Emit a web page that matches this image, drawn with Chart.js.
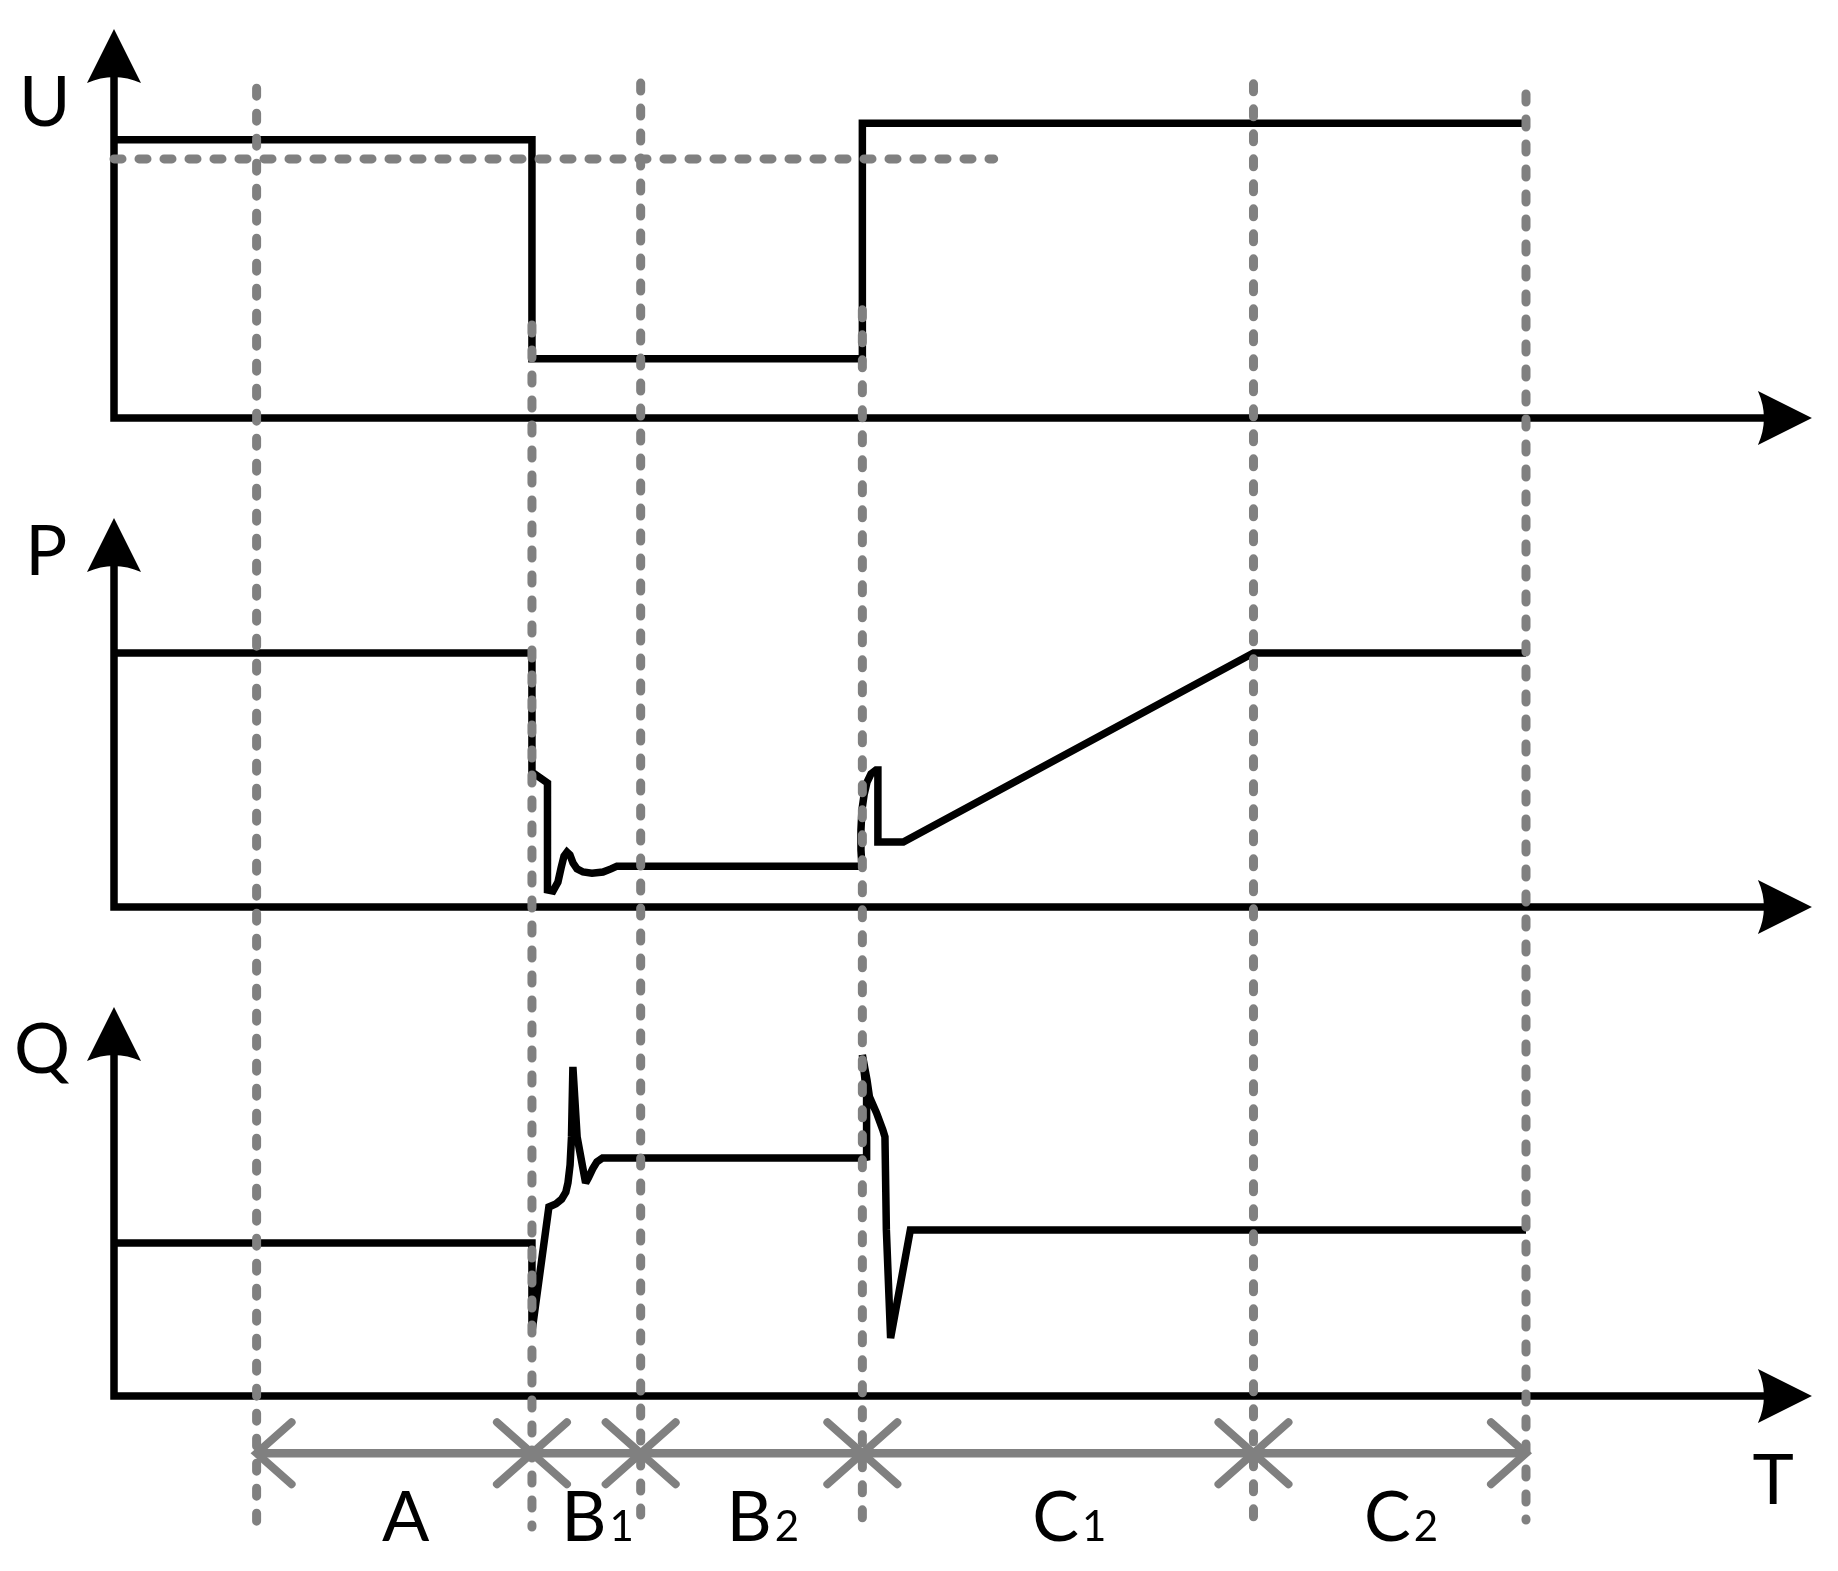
<!DOCTYPE html>
<html><head><meta charset="utf-8">
<script src="https://cdn.jsdelivr.net/npm/chart.js@4"></script>
<style>html,body{margin:0;padding:0;background:#fff;}canvas{display:block;}</style>
</head><body>
<canvas id="c" width="1838" height="1571"></canvas>
<script>
// Time axis: 0 = origin, 100 = end of period C2 (relative units)
const boundaries = [10.1, 29.6, 37.3, 53.0, 80.7, 100];
const periodNames = ['A', 'B', 'B', 'C', 'C'];
const periodSubs = ['', '1', '2', '1', '2'];
const axisNames = ['U', 'P', 'Q'];
const timeName = 'T';

// U (voltage), relative values (100 = top of axis)
const uTime  = [0, 29.6, 29.6, 53.0, 53.0, 100];
const uValue = [71.5, 71.5, 15.2, 15.2, 75.8, 75.8];
const uRefTime  = [0, 62.3];
const uRefValue = [66.6, 66.6];

// P (active power)
const pTime  = [0, 29.6, 29.6, 30.7, 30.7, 31.09, 31.44, 31.66, 31.87, 32.08, 32.29, 32.51, 32.79, 33.22, 33.85, 34.63, 35.2, 35.62,
                52.97, 52.9, 52.9, 52.97, 53.12, 53.33, 53.61, 53.97, 54.1, 54.1, 55.9, 80.7, 100];
const pValue = [65.3, 65.3, 34.7, 31.9, 4.4, 4.1, 6.4, 10.0, 13.1, 14.1, 13.4, 11.3, 9.8, 9.0, 8.7, 9.0, 9.8, 10.5,
                10.5, 14.7, 19.8, 24.9, 28.8, 32.1, 34.2, 35.2, 35.2, 16.7, 16.7, 65.3, 65.3];

// Q (reactive power)
const qTime  = [0, 29.6, 29.6, 30.8, 31.3, 31.7, 32.0, 32.15, 32.3, 32.4, 32.5, 32.8, 33.4, 33.6, 33.9, 34.2, 34.6,
                53.0, 53.3, 53.3, 53.0, 53.33, 53.5, 54.0, 54.45, 54.6, 54.7, 55.0, 56.4, 100];
const qValue = [39.3, 39.3, 16.5, 48.6, 49.4, 50.6, 52.4, 54.8, 59.4, 66.6, 84.6, 66.6, 54.8, 56.1, 58.4, 60.2, 61.2,
                61.2, 61.4, 77.4, 87.7, 81.2, 76.9, 72.8, 68.4, 66.6, 42.7, 14.9, 42.7, 42.7];

// ---- layout (pixels / styling) ----
const W = 1838, H = 1571;
const originX = 114, endX = 1526;
const pxPerT = (endX - originX) / 100;
const unit = 3.89;                       // px per value unit
const panelAxisY = {yU: 418, yP: 907, yQ: 1396};
const axisTopVal = 100, axisRightT = 120.25;
const GRAY = '#808080';
const FONT = 'Lato, "Open Sans", sans-serif';
const BLACK_W = 7.5, GRAY_W = 9;

// dashed vertical line extents (top on U panel units, bottom on Q panel units)
const vTop = [84.8, 23.9, 86.1, 27.8, 85.9, 83.3];
const vBot = [-33.2, -33.7, -30.6, -32.6, -31.4, -31.9];

function pts(t, v) { return t.map((x, i) => ({x, y: v[i]})); }
function yScale(id) {
  const a = panelAxisY[id];
  return {type: 'linear', display: false, min: -(H - a) / unit, max: a / unit};
}

function arrowHead(ctx, tx, ty, dir) {
  const L = 54, hw = 27, notch = 6;
  ctx.beginPath();
  if (dir === 'up') {
    ctx.moveTo(tx, ty);
    ctx.lineTo(tx + hw, ty + L);
    ctx.quadraticCurveTo(tx, ty + L - 2 * notch, tx - hw, ty + L);
  } else {
    ctx.moveTo(tx, ty);
    ctx.lineTo(tx - L, ty + hw);
    ctx.quadraticCurveTo(tx - L + 2 * notch, ty, tx - L, ty - hw);
  }
  ctx.closePath();
  ctx.fill();
}

const deco = {
  id: 'deco',
  beforeDraw(chart) {
    const c = chart.ctx;
    c.save(); c.fillStyle = '#fff'; c.fillRect(0, 0, chart.width, chart.height); c.restore();
  },
  beforeDatasetsDraw(chart) {
    const ctx = chart.ctx, x = chart.scales.x;
    const labelX = [-4.9, -4.8, -5.1];
    const labelBase = [75.1, 85.3, 83.0];
    ['yU', 'yP', 'yQ'].forEach((id, i) => {
      const y = chart.scales[id];
      const x0 = x.getPixelForValue(0), y0 = y.getPixelForValue(0);
      const yTip = y.getPixelForValue(axisTopVal), xTip = x.getPixelForValue(axisRightT);
      ctx.save();
      ctx.strokeStyle = '#000'; ctx.fillStyle = '#000';
      ctx.lineWidth = BLACK_W; ctx.lineJoin = 'miter'; ctx.lineCap = 'butt';
      ctx.beginPath();
      ctx.moveTo(x0, yTip + 44);
      ctx.lineTo(x0, y0);
      ctx.lineTo(xTip - 44, y0);
      ctx.stroke();
      arrowHead(ctx, x0, yTip, 'up');
      arrowHead(ctx, xTip, y0, 'right');
      ctx.font = '70px ' + FONT;
      ctx.textAlign = 'center'; ctx.textBaseline = 'alphabetic';
      ctx.fillText(axisNames[i], x.getPixelForValue(labelX[i]), y.getPixelForValue(labelBase[i]));
      ctx.restore();
    });
    ctx.miterLimit = 2;   // sharp spikes get bevelled, right angles stay square
  },
  afterDatasetsDraw(chart) {
    const ctx = chart.ctx, x = chart.scales.x, yU = chart.scales.yU, yQ = chart.scales.yQ;
    ctx.miterLimit = 10;
    ctx.save();
    // vertical dashed period boundaries
    ctx.strokeStyle = GRAY; ctx.lineWidth = GRAY_W; ctx.lineCap = 'round';
    ctx.setLineDash([8, 17]);
    boundaries.forEach((b, i) => {
      const px = x.getPixelForValue(b);
      ctx.beginPath();
      ctx.moveTo(px, yU.getPixelForValue(vTop[i]));
      ctx.lineTo(px, yQ.getPixelForValue(vBot[i]));
      ctx.stroke();
    });
    ctx.setLineDash([]);
    // interval arrows
    const ay = yQ.getPixelForValue(-14.7);
    ctx.lineCap = 'butt'; ctx.lineWidth = 8.5;
    ctx.beginPath();
    ctx.moveTo(x.getPixelForValue(boundaries[0]), ay);
    ctx.lineTo(x.getPixelForValue(boundaries[boundaries.length - 1]), ay);
    ctx.stroke();
    ctx.lineCap = 'round'; ctx.lineWidth = 8;
    const dx = 35, dy = 31;
    boundaries.forEach((b, i) => {
      const px = x.getPixelForValue(b);
      ctx.beginPath();
      if (i > 0) {
        ctx.moveTo(px - dx, ay - dy); ctx.lineTo(px, ay); ctx.lineTo(px - dx, ay + dy);
      }
      if (i < boundaries.length - 1) {
        ctx.moveTo(px + dx, ay - dy); ctx.lineTo(px, ay); ctx.lineTo(px + dx, ay + dy);
      }
      ctx.stroke();
    });
    // period labels
    ctx.fillStyle = '#000'; ctx.textAlign = 'left'; ctx.textBaseline = 'alphabetic';
    const base = yQ.getPixelForValue(-37.3);
    periodNames.forEach((n, k) => {
      const cx = x.getPixelForValue((boundaries[k] + boundaries[k + 1]) / 2 + 0.8);
      ctx.font = '70px ' + FONT;
      const w1 = ctx.measureText(n).width;
      ctx.font = '42px ' + FONT;
      const w2 = periodSubs[k] ? ctx.measureText(periodSubs[k]).width + 3 : 0;
      const sx = cx - (w1 + w2) / 2;
      ctx.font = '70px ' + FONT;
      ctx.fillText(n, sx, base);
      if (periodSubs[k]) { ctx.font = '42px ' + FONT; ctx.fillText(periodSubs[k], sx + w1 + 3, base); }
    });
    ctx.font = '70px ' + FONT; ctx.textAlign = 'center';
    ctx.fillText(timeName, x.getPixelForValue(117.5), yQ.getPixelForValue(-27.8));
    ctx.restore();
  }
};

const lineStyle = {borderColor: '#000', borderWidth: BLACK_W, pointRadius: 0, tension: 0, fill: false,
                   borderJoinStyle: 'miter', borderCapStyle: 'butt'};

new Chart(document.getElementById('c'), {
  type: 'line',
  data: {
    datasets: [
      {label: 'U ref', data: pts(uRefTime, uRefValue), yAxisID: 'yU', borderColor: GRAY, borderWidth: GRAY_W,
       borderDash: [8, 17], borderCapStyle: 'round', pointRadius: 0, tension: 0, fill: false},
      Object.assign({label: 'U', data: pts(uTime, uValue), yAxisID: 'yU'}, lineStyle),
      Object.assign({label: 'P', data: pts(pTime, pValue), yAxisID: 'yP'}, lineStyle),
      Object.assign({label: 'Q', data: pts(qTime, qValue), yAxisID: 'yQ'}, lineStyle)
    ]
  },
  options: {
    responsive: false, animation: false,
    layout: {padding: 0},
    plugins: {legend: {display: false}, tooltip: {enabled: false}},
    scales: {
      x: {type: 'linear', display: false, min: -originX / pxPerT, max: (W - originX) / pxPerT},
      yU: yScale('yU'), yP: yScale('yP'), yQ: yScale('yQ')
    }
  },
  plugins: [deco]
});
</script>
</body></html>
